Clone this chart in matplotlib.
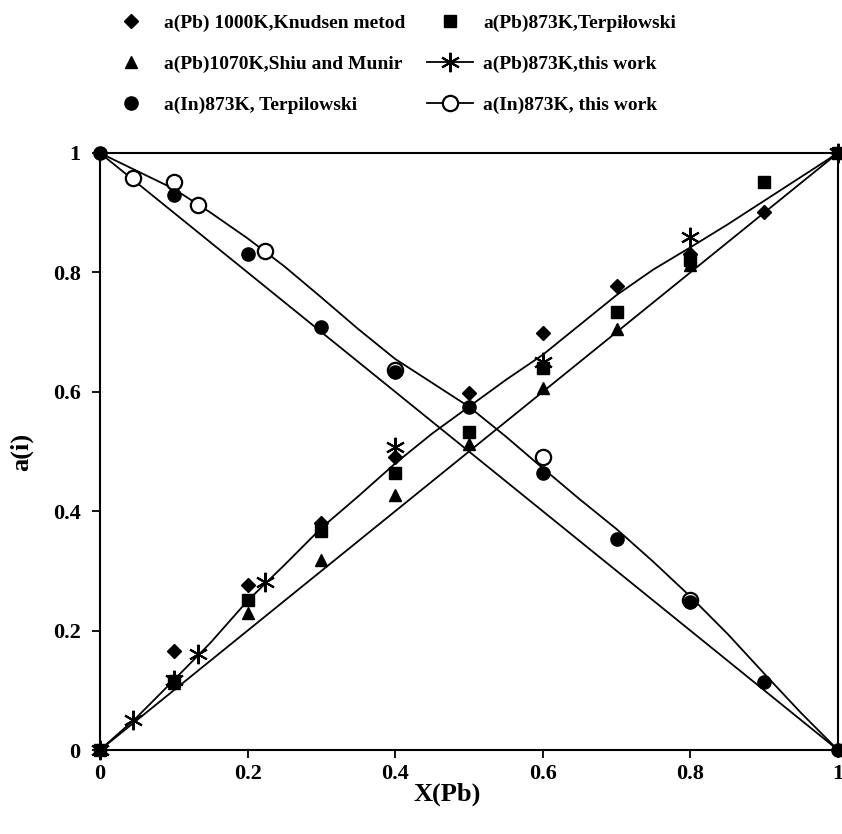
import matplotlib
matplotlib.use("Agg")
import matplotlib.pyplot as plt
from matplotlib.lines import Line2D

plt.rcParams['font.family'] = ['Liberation Serif', 'DejaVu Serif']
plt.rcParams['font.weight'] = 'bold'

# ---- data ----
# a(Pb) 1000K, Knudsen method (diamonds)
knud_x = [0.1, 0.2, 0.3, 0.4, 0.5, 0.6, 0.7, 0.8, 0.9, 1.0]
knud_y = [0.166, 0.276, 0.380, 0.491, 0.598, 0.698, 0.777, 0.830, 0.902, 1.0]

# a(Pb) 873K, Terpilowski (squares)
terp_pb_x = [0.0, 0.1, 0.2, 0.3, 0.4, 0.5, 0.6, 0.7, 0.8, 0.9, 1.0]
terp_pb_y = [0.0, 0.115, 0.251, 0.366, 0.464, 0.533, 0.640, 0.733, 0.820, 0.952, 1.0]

# a(Pb) 1070K, Shiu and Munir (triangles)
shiu_x = [0.1, 0.2, 0.3, 0.4, 0.5, 0.6, 0.7, 0.8]
shiu_y = [0.112, 0.229, 0.319, 0.427, 0.513, 0.606, 0.705, 0.812]

# a(In) 873K, Terpilowski (filled circles)
terp_in_x = [0.0, 0.1, 0.2, 0.3, 0.4, 0.5, 0.6, 0.7, 0.8, 0.9, 1.0]
terp_in_y = [1.0, 0.930, 0.830, 0.709, 0.633, 0.575, 0.464, 0.354, 0.248, 0.114, 0.0]

# this work, 873K (stars: a(Pb), open circles: a(In))
tw_pb_x = [0.0, 0.045, 0.1, 0.133, 0.224, 0.4, 0.6, 0.8, 1.0]
tw_pb_y = [0.0, 0.050, 0.117, 0.160, 0.282, 0.508, 0.650, 0.860, 1.0]
tw_in_x = [0.045, 0.1, 0.133, 0.224, 0.4, 0.6, 0.8]
tw_in_y = [0.958, 0.952, 0.913, 0.836, 0.636, 0.490, 0.251]

# smooth curves (this work)
curve_x = [0.0, 0.05, 0.1, 0.15, 0.2, 0.25, 0.3, 0.35, 0.4, 0.45, 0.5,
           0.55, 0.6, 0.65, 0.7, 0.75, 0.8, 0.85, 0.9, 0.95, 1.0]
curve_pb_y = [0.0, 0.055, 0.117, 0.180, 0.250, 0.310, 0.372, 0.425, 0.480, 0.530, 0.575,
              0.620, 0.662, 0.712, 0.762, 0.805, 0.842, 0.880, 0.920, 0.960, 1.0]
curve_in_y = [1.0, 0.970, 0.940, 0.900, 0.857, 0.810, 0.758, 0.705, 0.655, 0.615, 0.575,
              0.525, 0.472, 0.420, 0.370, 0.315, 0.257, 0.195, 0.128, 0.062, 0.0]

# ideal (Raoult) lines
ideal_x = [0.0, 1.0]
ideal_pb_y = [0.0, 1.0]
ideal_in_y = [1.0, 0.0]

labels = ["a(Pb) 1000K,Knudsen metod", "a(Pb)1070K,Shiu and Munir", "a(In)873K, Terpilowski",
          "a(Pb)873K,Terpiłowski", "a(Pb)873K,this work", "a(In)873K, this work"]
xticks = [0, 0.2, 0.4, 0.6, 0.8, 1]
xtick_labels = ["0", "0.2", "0.4", "0.6", "0.8", "1"]

fig = plt.figure(figsize=(8.42, 8.34), dpi=100)
ax = fig.add_axes([100/842, 1 - 750/834, 738/842, 597/834])

lw = 1.3
ax.plot(ideal_x, ideal_pb_y, color='black', lw=lw)
ax.plot(ideal_x, ideal_in_y, color='black', lw=lw)
ax.plot(curve_x, curve_pb_y, color='black', lw=lw)
ax.plot(curve_x, curve_in_y, color='black', lw=lw)

kw = dict(linestyle='none', color='black', clip_on=False)
ax.plot(tw_in_x, tw_in_y, marker='o', ms=11, mfc='white', mec='black', mew=1.6,
        linestyle='none', clip_on=False)
ax.plot(terp_in_x, terp_in_y, marker='o', ms=9.5, **kw)
ax.plot(shiu_x, shiu_y, marker='^', ms=9, **kw)
ax.plot(terp_pb_x, terp_pb_y, marker='s', ms=8.5, **kw)
ax.plot(knud_x, knud_y, marker='D', ms=7, **kw)
ax.plot(tw_pb_x, tw_pb_y, marker=(6, 2, 0), ms=14, mew=1.5, **kw)

ax.set_xlim(0, 1)
ax.set_ylim(0, 1)
ax.set_xticks(xticks)
ax.set_xticklabels(xtick_labels)
ax.set_yticks(xticks)
ax.set_yticklabels(xtick_labels)
ax.tick_params(direction='out', length=6, width=1.3, labelsize=16, top=False, right=False)
ax.tick_params(axis='y', pad=8)
ax.tick_params(axis='x', pad=4)
for s in ax.spines.values():
    s.set_linewidth(1.5)

ax.set_xlabel("X(Pb)", fontsize=19, fontweight='bold')
ax.xaxis.set_label_coords(0.47, -0.055)
ax.set_ylabel("a(i)", fontsize=19, fontweight='bold')
ax.yaxis.set_label_coords(-0.09, 0.5)

handles = [
    Line2D([], [], marker='D', ms=7, color='black', linestyle='none'),
    Line2D([], [], marker='^', ms=9, color='black', linestyle='none'),
    Line2D([], [], marker='o', ms=9.5, color='black', linestyle='none'),
    Line2D([], [], marker='s', ms=8.5, color='black', linestyle='none'),
    Line2D([], [], marker=(6, 2, 0), ms=14, mew=1.5, color='black', lw=lw),
    Line2D([], [], marker='o', ms=11, mfc='white', mec='black', mew=1.6, color='black', lw=lw),
]
fig.legend(handles, labels, loc='upper left', bbox_to_anchor=(90/842, 1.004), ncol=2,
           frameon=False, prop={'family': 'Liberation Serif', 'weight': 'bold', 'size': 14},
           labelspacing=1.2, columnspacing=1.1, handlelength=2.4, handletextpad=0.5)

fig.savefig("out.png", dpi=100)
